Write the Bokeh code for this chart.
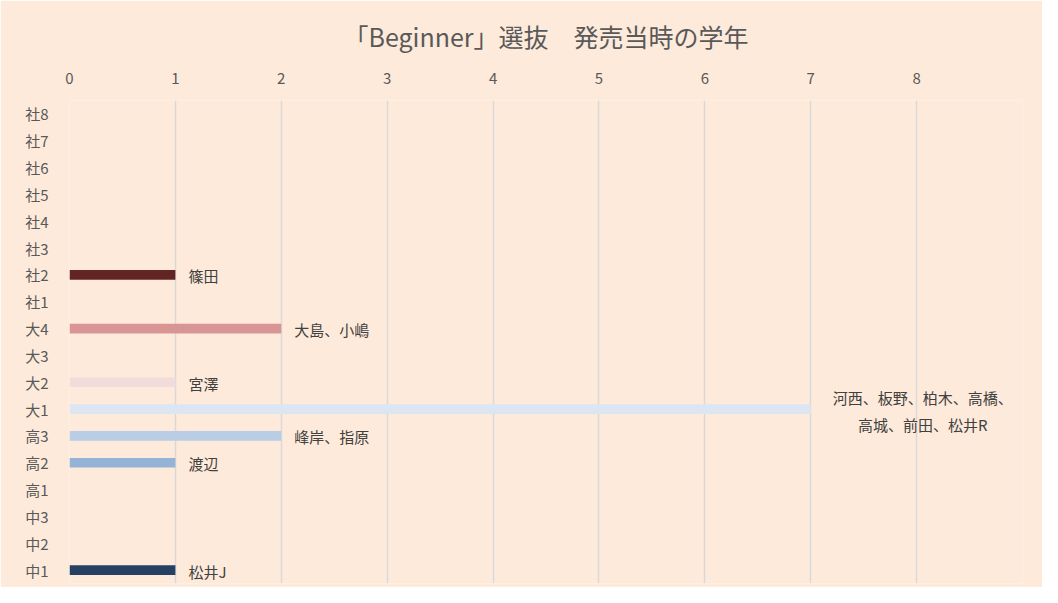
from bokeh.plotting import figure
from bokeh.models import FactorRange, Range1d, FixedTicker, ColumnDataSource
from bokeh.core.properties import value
from bokeh.embed import file_html
from bokeh.resources import INLINE

grades = ["中1", "中2", "中3", "高1", "高2", "高3", "大1", "大2", "大3", "大4",
          "社1", "社2", "社3", "社4", "社5", "社6", "社7", "社8"]
counts = [1, 0, 0, 0, 1, 2, 7, 1, 0, 2, 0, 1, 0, 0, 0, 0, 0, 0]
names = ["松井J", "", "", "", "渡辺", "峰岸、指原", "", "宮澤", "", "大島、小嶋",
         "", "篠田", "", "", "", "", "", ""]
big_label_grade = ["大1"]
big_label_count = [7]
big_label_text = ["河西、板野、柏木、高橋、\n高城、前田、松井R"]
bar_colors = ["#254061", "#95B3D7", "#95B3D7", "#95B3D7", "#95B3D7", "#B9CDE5", "#DCE6F2",
              "#F2DCDB", "#D99594", "#D99594", "#632523", "#632523", "#632523", "#632523",
              "#632523", "#632523", "#632523", "#632523"]
x_ticks = [0, 1, 2, 3, 4, 5, 6, 7, 8]

FONT = "Noto Sans CJK JP"
BG = "#FDEADA"

src = ColumnDataSource(dict(y=grades, right=counts, name=names, color=bar_colors))

p = figure(width=1042, height=587, output_backend="svg", toolbar_location=None,
           y_range=FactorRange(factors=grades, range_padding=0),
           x_range=Range1d(0, 9), x_axis_location="above",
           title="「Beginner」選抜　発売当時の学年")
p.background_fill_color = BG
p.border_fill_color = BG
p.outline_line_color = None
p.min_border_left = 69
p.min_border_right = 20
p.min_border_bottom = 4
p.min_border_top = 100

p.title.align = "center"
p.title.text_font = FONT
p.title.text_font_size = "25px"
p.title.text_font_style = "normal"
p.title.text_color = "#595959"
p.title.standoff = 31

p.hbar(y="y", right="right", left=0, height=0.36, fill_color="color", line_color=None, source=src)
p.text(x="right", y="y", text="name", source=src, x_offset=13, y_offset=1,
       text_align="left", text_baseline="middle", text_font=value(FONT),
       text_font_size="15px", text_color="#404040")
p.text(x=big_label_count, y=big_label_grade, text=big_label_text, x_offset=112, y_offset=2,
       text_align="center", text_baseline="middle", text_font=value(FONT),
       text_font_size="15px", text_color="#404040", text_line_height=1.3)

xa = p.xaxis[0]
xa.ticker = FixedTicker(ticks=x_ticks)
xa.axis_line_color = None
xa.major_tick_line_color = None
xa.minor_tick_line_color = None
xa.major_label_standoff = 11
xa.major_label_text_font = FONT
xa.major_label_text_font_size = "15px"
xa.major_label_text_color = "#595959"

ya = p.yaxis[0]
ya.axis_line_color = None
ya.major_tick_line_color = None
ya.minor_tick_line_color = None
ya.major_label_standoff = 15
ya.major_label_text_font = FONT
ya.major_label_text_font_size = "15px"
ya.major_label_text_color = "#595959"

p.xgrid.grid_line_color = "#D9D9D9"
p.xgrid.grid_line_width = 1.5
p.xgrid.ticker = FixedTicker(ticks=x_ticks)
p.ygrid.grid_line_color = None

open("out.html", "w").write(file_html(p, INLINE))
